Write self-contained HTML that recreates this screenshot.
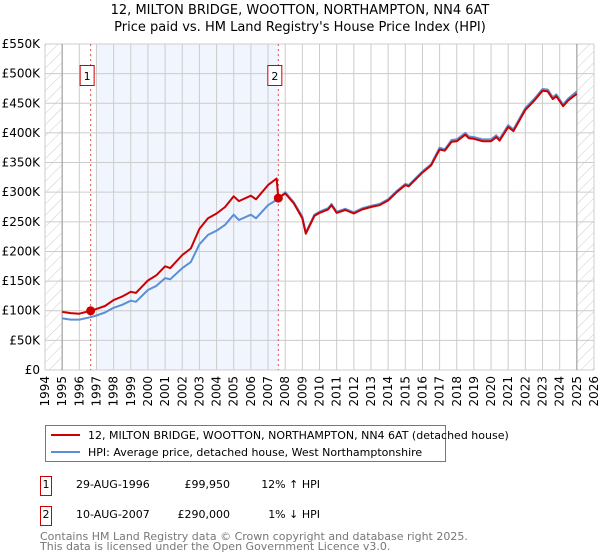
<!DOCTYPE html>
<html><head><meta charset="utf-8"><style>
body{margin:0;background:#fff;font-family:"DejaVu Sans","Liberation Sans",sans-serif;}
svg{display:block}
</style></head><body>
<svg width="600" height="560" xmlns="http://www.w3.org/2000/svg">
<defs><pattern id="hatch" width="8" height="8" patternUnits="userSpaceOnUse" patternTransform="rotate(45)"><line x1="0" y1="0" x2="0" y2="8" stroke="#ccc" stroke-width="1"/></pattern></defs>
<text x="300" y="14" text-anchor="middle" font-size="13">12, MILTON BRIDGE, WOOTTON, NORTHAMPTON, NN4 6AT</text>
<text x="300" y="31" text-anchor="middle" font-size="13">Price paid vs. HM Land Registry's House Price Index (HPI)</text>
<g id="plot"></g>
<g>
<rect x="45.5" y="425.5" width="400" height="36" fill="#fff" stroke="#777"/>
<line x1="51" y1="435" x2="80" y2="435" stroke="#cc0000" stroke-width="2"/>
<text x="88" y="439" font-size="11">12, MILTON BRIDGE, WOOTTON, NORTHAMPTON, NN4 6AT (detached house)</text>
<line x1="51" y1="452" x2="80" y2="452" stroke="#5b8fd6" stroke-width="2"/>
<text x="88" y="456" font-size="11">HPI: Average price, detached house, West Northamptonshire</text>
</g>
<g font-size="11">
<rect x="40.5" y="476.5" width="11" height="19" fill="#fff" stroke="#cc0000"/><text x="46" y="488" text-anchor="middle">1</text>
<text x="76" y="488">29-AUG-1996</text><text x="230" y="488" text-anchor="end">£99,950</text><text x="320" y="488" text-anchor="end">12% ↑ HPI</text>
<rect x="40.5" y="506.5" width="11" height="19" fill="#fff" stroke="#cc0000"/><text x="46" y="518" text-anchor="middle">2</text>
<text x="76" y="518">10-AUG-2007</text><text x="230" y="518" text-anchor="end">£290,000</text><text x="320" y="518" text-anchor="end">1% ↓ HPI</text>
</g>
<text x="40" y="540" font-size="11" fill="#777">Contains HM Land Registry data © Crown copyright and database right 2025.</text>
<text x="40" y="550" font-size="11" fill="#777">This data is licensed under the Open Government Licence v3.0.</text>
</svg>
<script>
const years=[1995.0,1995.5,1996.0,1996.66,1997.0,1997.5,1998.0,1998.5,1999.0,1999.3,2000.0,2000.5,2001.0,2001.3,2002.0,2002.5,2003.0,2003.5,2004.0,2004.5,2005.0,2005.3,2006.0,2006.3,2007.0,2007.5,2007.6,2008.0,2008.5,2009.0,2009.2,2009.7,2010.0,2010.5,2010.7,2011.0,2011.5,2012.0,2012.5,2013.0,2013.5,2014.0,2014.5,2015.0,2015.2,2016.0,2016.5,2017.0,2017.3,2017.7,2018.0,2018.5,2018.7,2019.0,2019.5,2020.0,2020.3,2020.5,2021.0,2021.3,2022.0,2022.5,2023.0,2023.3,2023.6,2023.8,2024.2,2024.5,2025.0];
const hpi=[87,85,85,89,92,97,105,110,117,115,135,142,155,153,172,182,212,228,235,245,262,253,262,256,278,287,288,300,283,259,232,262,267,273,280,267,272,266,273,277,280,288,302,314,312,335,347,375,372,388,389,400,394,393,389,389,396,390,413,406,442,457,474,473,460,465,448,458,470];
const prop=[98,96,95,99.95,103,108,118,124,132,130,151,160,175,172,194,205,238,256,264,275,293,285,294,288,312,323,290,298,281,256,230,260,265,271,278,265,270,264,271,275,278,286,300,312,310,333,345,372,370,385,386,397,391,390,386,386,393,387,410,403,439,454,471,470,457,462,445,455,466];
const saleYears=[1996.66,2007.6];
const salePrices=[99.95,290];
const saleLabels=["1","2"];
const yTicks=[0,50,100,150,200,250,300,350,400,450,500,550];
const yTickLabels=["£0","£50K","£100K","£150K","£200K","£250K","£300K","£350K","£400K","£450K","£500K","£550K"];
const xTicks=[1994,1995,1996,1997,1998,1999,2000,2001,2002,2003,2004,2005,2006,2007,2008,2009,2010,2011,2012,2013,2014,2015,2016,2017,2018,2019,2020,2021,2022,2023,2024,2025,2026];

const X0=45,X1=594,Y0=370,Y1=44;
const xs=y=>X0+(y-1994)/(2026-1994)*(X1-X0);
const ys=v=>Y0-v/550*(Y0-Y1);
const NS="http://www.w3.org/2000/svg";
const g=document.getElementById('plot');
function mk(t,a,p){const e=document.createElementNS(NS,t);for(const k in a)e.setAttribute(k,a[k]);(p||g).appendChild(e);return e;}
let e;
e=mk('rect',{x:xs(1997),y:Y1,width:xs(saleYears[1])-xs(1997),height:Y0-Y1,fill:'#eef3fc',opacity:0.8});


xTicks.forEach(t=>{mk('line',{x1:xs(t),y1:Y1,x2:xs(t),y2:Y0,stroke:'#ccc'});});
yTicks.forEach(t=>{mk('line',{x1:X0,y1:ys(t),x2:X1,y2:ys(t),stroke:'#ccc'});});
e=mk('rect',{x:X0,y:Y1,width:xs(1995)-X0,height:Y0-Y1,fill:'url(#hatch)'});


e=mk('rect',{x:xs(2025),y:Y1,width:X1-xs(2025),height:Y0-Y1,fill:'url(#hatch)'});


mk('line',{x1:xs(1995),y1:Y1,x2:xs(1995),y2:Y0,stroke:'#999'});
mk('line',{x1:xs(2025),y1:Y1,x2:xs(2025),y2:Y0,stroke:'#999'});
yTicks.forEach((t,i)=>{e=mk('text',{x:40,y:ys(t)+4,'text-anchor':'end','font-size':12});e.textContent=yTickLabels[i];

});
xTicks.forEach(t=>{e=mk('text',{x:0,y:0,'text-anchor':'end','font-size':12,transform:`translate(${xs(t)+4},376) rotate(-90)`});e.textContent=t;

});
saleYears.forEach((s,i)=>{
e=mk('line',{x1:xs(s),y1:Y1,x2:xs(s),y2:Y0,stroke:'#e05050','stroke-dasharray':'2,3'});


e=mk('rect',{x:xs(s)-10.5,y:65.5,width:14,height:20,fill:'#fff',stroke:'#cc0000'});


const tt=mk('text',{x:xs(s)-3.5,y:80,'text-anchor':'middle','font-size':11});tt.textContent=saleLabels[i];
});
const path=arr=>arr.map((v,i)=>(i?'L':'M')+xs(years[i]).toFixed(1)+','+ys(v).toFixed(1)).join('');
e=mk('path',{d:path(hpi),fill:'none',stroke:'#5b8fd6','stroke-width':2,'stroke-linejoin':'round'});


e=mk('path',{d:path(prop),fill:'none',stroke:'#cc0000','stroke-width':2,'stroke-linejoin':'round'});


saleYears.forEach((s,i)=>{e=mk('circle',{cx:xs(s),cy:ys(salePrices[i]),r:4.5,fill:'#cc0000'});

});
</script>
</body></html>
